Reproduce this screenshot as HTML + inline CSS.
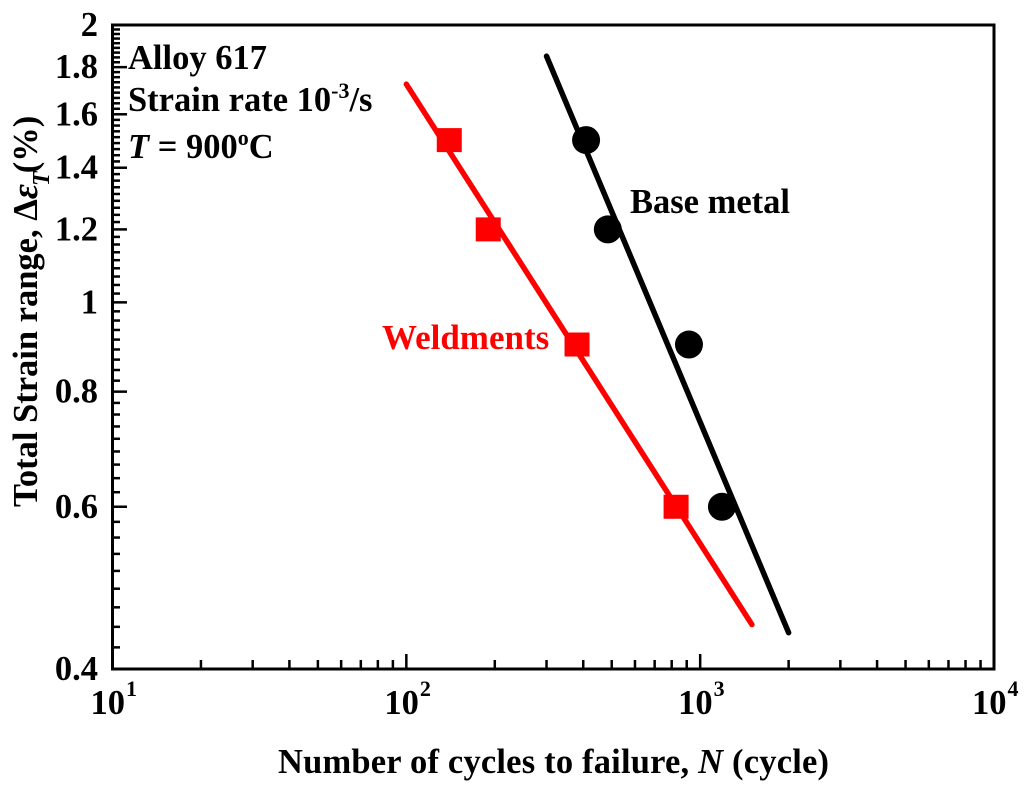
<!DOCTYPE html>
<html lang="en">
<head>
<meta charset="utf-8">
<title>Alloy 617 strain-life chart</title>
<style>
html,body{margin:0;padding:0;background:#fff;}
svg{display:block;}
text{font-family:"Liberation Serif",serif;font-weight:bold;fill:#000;}
</style>
</head>
<body>
<svg id="chart" width="1024" height="786" viewBox="0 0 1024 786" xmlns="http://www.w3.org/2000/svg">
  <rect x="0" y="0" width="1024" height="786" fill="#fff"/>
  <g id="ticks"></g>
  <g id="ticklabels"></g>
  <g id="series"></g>
  <rect x="112.5" y="25" width="881.5" height="644" fill="none" stroke="#000" stroke-width="3"/>
  <text x="278" y="773" font-size="34.5" textLength="551">Number of cycles to failure, <tspan font-style="italic">N</tspan> (cycle)</text>
  <text transform="translate(37,507) rotate(-90)" font-size="34.5">Total Strain range, Δ<tspan font-style="italic" font-size="37">ε</tspan><tspan font-style="italic" font-size="24" dy="12" dx="-2">T</tspan><tspan dy="-12" dx="-2">(%)</tspan></text>
  <text x="128" y="69" font-size="34.5">Alloy 617</text>
  <text x="128" y="111" font-size="34.5">Strain rate 10<tspan font-size="22" dy="-13">-3</tspan><tspan dy="13">/s</tspan></text>
  <text x="128" y="158" font-size="34.5"><tspan font-style="italic">T</tspan> = 900<tspan font-size="22" dy="-13">o</tspan><tspan dy="13">C</tspan></text>
  <text x="630" y="213" font-size="34.5">Base metal</text>
  <text x="382" y="349" font-size="35" style="fill:#f00">Weldments</text>
</svg>
<script>
var yMajorTicks = [0.4, 0.6, 0.8, 1, 1.2, 1.4, 1.6, 1.8, 2];
var yTickLabels = ['0.4', '0.6', '0.8', '1', '1.2', '1.4', '1.6', '1.8', '2'];
var xDecades = [1, 2, 3, 4];
var xTickLabels = ['10', '10', '10', '10'];
var xTickExponents = ['1', '2', '3', '4'];
var xMinorMultipliers = [2, 3, 4, 5, 6, 7, 8, 9];
var ySubdivisions = 9;

var baseCycles = [409, 485, 916, 1186];
var baseStrain = [1.5, 1.2, 0.9, 0.6];
var weldCycles = [140, 190, 381, 828];
var weldStrain = [1.5, 1.2, 0.9, 0.6];

var baseFitCycles = [300, 2000];
var baseFitStrain = [1.85, 0.438];
var weldFitCycles = [100, 1500];
var weldFitStrain = [1.725, 0.447];

var NS = 'http://www.w3.org/2000/svg';
function xScale(v) {
  return 112.5 + (Math.log10(v) - 1) * (994 - 112.5) / 3;
}
function yScale(v) {
  return 669 - (Math.log10(v) - Math.log10(0.4)) * (669 - 25) / (Math.log10(2) - Math.log10(0.4));
}
function make(tag, attrs, parent) {
  var el = document.createElementNS(NS, tag);
  for (var k in attrs) { el.setAttribute(k, attrs[k]); }
  parent.appendChild(el);
  return el;
}
var ticks = document.getElementById('ticks');
var tickLabels = document.getElementById('ticklabels');
var series = document.getElementById('series');

yMajorTicks.forEach(function (v, i) {
  var y = yScale(v);
  var major = make('line', {x1: 112, x2: 127, y1: y, y2: y, stroke: '#000', 'stroke-width': 2.5}, ticks);
  
  
  var label = make('text', {x: 98, y: y + 11, 'font-size': 34.5, 'text-anchor': 'end'}, tickLabels);
  label.textContent = yTickLabels[i];
  
  
  if (i < yMajorTicks.length - 1) {
    var step = (yMajorTicks[i + 1] - v) / ySubdivisions;
    for (var j = 1; j < ySubdivisions; j++) {
      var ym = yScale(v + j * step);
      var minor = make('line', {x1: 112, x2: 120, y1: ym, y2: ym, stroke: '#000', 'stroke-width': 2.5}, ticks);
      
      
    }
  }
});

xDecades.forEach(function (d, i) {
  var base = Math.pow(10, d);
  var x = xScale(base);
  var major = make('line', {x1: x, x2: x, y1: 669, y2: 654, stroke: '#000', 'stroke-width': 2.5}, ticks);
  
  
  var label = make('text', {x: x - 22, y: 714, 'font-size': 34.5}, tickLabels);
  
  
  var mant = make('tspan', {}, label);
  mant.textContent = xTickLabels[i];
  var exp = make('tspan', {'font-size': 22, dy: -18, dx: 1}, label);
  exp.textContent = xTickExponents[i];
  if (i < xDecades.length - 1) {
    xMinorMultipliers.forEach(function (m) {
      var xm = xScale(base * m);
      var minor = make('line', {x1: xm, x2: xm, y1: 669, y2: 660, stroke: '#000', 'stroke-width': 2.5}, ticks);
      
      
    });
  }
});

var baseFit = make('line', {x1: xScale(baseFitCycles[0]), y1: yScale(baseFitStrain[0]), x2: xScale(baseFitCycles[1]), y2: yScale(baseFitStrain[1]), stroke: '#000', 'stroke-width': 5.5, 'stroke-linecap': 'round'}, series);



var weldFit = make('line', {x1: xScale(weldFitCycles[0]), y1: yScale(weldFitStrain[0]), x2: xScale(weldFitCycles[1]), y2: yScale(weldFitStrain[1]), stroke: '#f00', 'stroke-width': 5.5, 'stroke-linecap': 'round'}, series);



baseCycles.forEach(function (c, i) {
  var pt = make('circle', {cx: xScale(c), cy: yScale(baseStrain[i]), r: 14, fill: '#000'}, series);
  
  
});
weldCycles.forEach(function (c, i) {
  var sq = make('rect', {x: xScale(c) - 12.5, y: yScale(weldStrain[i]) - 12, width: 25, height: 24, fill: '#f00'}, series);
  
  
});
</script>
</body>
</html>
